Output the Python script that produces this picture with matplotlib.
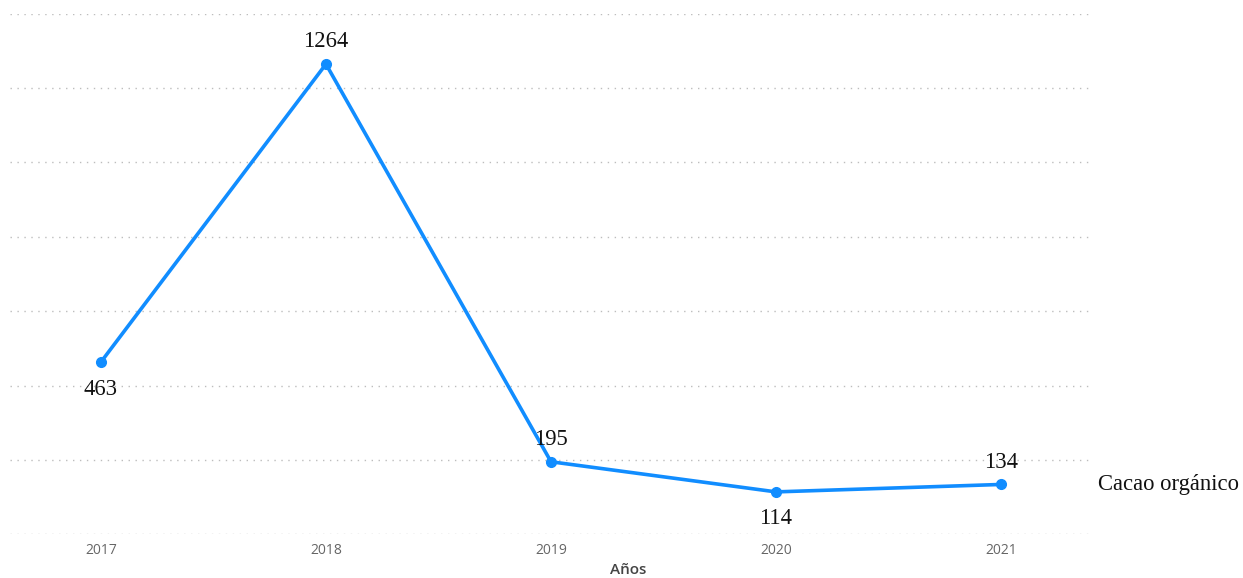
import matplotlib
matplotlib.use('Agg')
import matplotlib.pyplot as plt

years = ['2017', '2018', '2019', '2020', '2021']
values = [463, 1264, 195, 114, 134]
# label above (+1) or below (-1) each point
label_side = [-1, 1, 1, -1, 1]
series_name = 'Cacao orgánico'

blue = '#118DFF'
serif = ['Liberation Serif', 'DejaVu Serif']
sans = ['Open Sans', 'DejaVu Sans']

fig = plt.figure(figsize=(12.43, 5.78), dpi=100)
ax = fig.add_axes([10 / 1243, 43.7 / 578, 1082 / 1243, 520.8 / 578])

x = list(range(len(years)))
ax.plot(x, values, color=blue, linewidth=2.6, marker='o', markersize=7,
        solid_joinstyle='round', zorder=3, clip_on=False)

for xi, v, side in zip(x, values, label_side):
    off = 16 if side > 0 else -19.5
    ax.annotate(str(v), (xi, v), xytext=(0, off), textcoords='offset points',
                ha='center', va='center', fontsize=16.3, family=serif, color='#111111')

ax.text(len(years) - 1 + 0.43, values[-1], series_name, ha='left', va='center',
        fontsize=16.3, family=serif, color='#111111', clip_on=False)

ax.set_xlim(-0.404, len(years) - 1 + 0.404)
ax.set_ylim(0, 1400)
ax.set_yticks(range(0, 1401, 200))
ax.yaxis.grid(True, color='#bdbdbd', linestyle=(0, (1, 4)), linewidth=1)
ax.set_axisbelow(True)
ax.tick_params(axis='y', left=False, labelleft=False)

ax.set_xticks(x)
ax.set_xticklabels(years, fontsize=10, color='#666666', family=sans)
ax.tick_params(axis='x', length=0, pad=6)

for s in ax.spines.values():
    s.set_visible(False)

fig.text(628 / 1243, 1 - 570 / 578, 'Años', ha='center', va='center', fontsize=11,
         color='#444444', fontweight='semibold', family=sans)

fig.savefig('out.png', dpi=100)
